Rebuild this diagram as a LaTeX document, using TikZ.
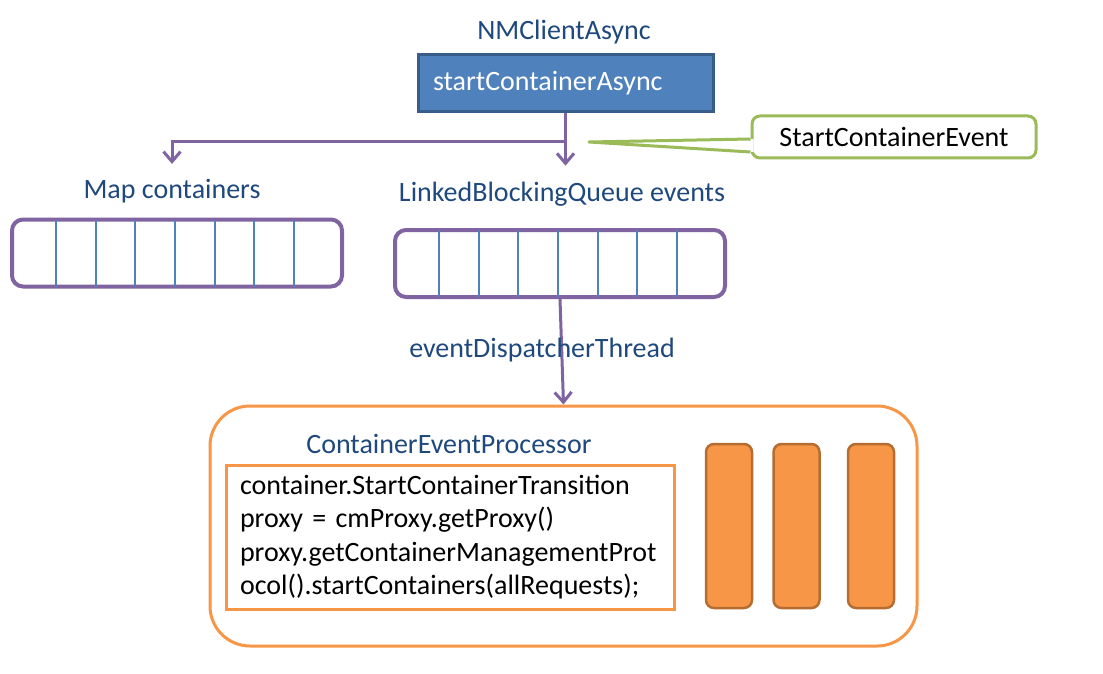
\documentclass[tikz,border=0pt]{standalone}
\usepackage{fontspec}
\setmainfont{Carlito}
\usepackage{xcolor}
\usepackage{tikz}
\usetikzlibrary{arrows.meta,positioning,calc}
\definecolor{NmBlue}{HTML}{4F81BD}
\definecolor{NmBlueDark}{HTML}{385D8A}
\definecolor{NmText}{HTML}{1F497D}
\definecolor{NmPurple}{HTML}{8064A2}
\definecolor{NmGreen}{HTML}{9BBB59}
\definecolor{NmOrange}{HTML}{F79646}
\definecolor{NmOrangeDark}{HTML}{B66D31}
\tikzset{
  toplabel/.style={font=\fontsize{28}{33}\selectfont,text=NmText,inner sep=0pt},
  methodbox/.style={draw=NmBlueDark,line width=3pt,fill=NmBlue,text=white,font=\fontsize{28}{33}\selectfont,minimum width=295pt,minimum height=57pt,text width=265pt,align=left,inner sep=0pt},
  queuebox/.style={draw=NmPurple,line width=4pt,rounded corners=11pt,minimum width=330pt,minimum height=67pt,inner sep=0pt},
  cellline/.style={draw=NmBlue,line width=1.5pt,shorten <=2pt,shorten >=2pt},
  flowarrow/.style={-{Straight Barb[length=10pt,width=17pt,line width=3pt]},line width=3pt,draw=NmPurple},
  eventtag/.style={draw=NmGreen,line width=3pt,rounded corners=8pt,fill=white,minimum width=284pt,minimum height=42pt,font=\fontsize{28}{33}\selectfont,inner sep=0pt},
  tagline/.style={draw=NmGreen,line width=3pt,line join=round},
  procbox/.style={draw=NmOrange,line width=3pt,rounded corners=40pt,minimum width=707pt,minimum height=240pt,inner sep=0pt},
  codebox/.style={draw=NmOrange,line width=3pt,minimum width=448pt,minimum height=144pt,text width=420pt,align=left,inner sep=0pt,font=\fontsize{28}{33.5}\selectfont},
  workerbar/.style={draw=NmOrangeDark,fill=NmOrange,line width=2.5pt,rounded corners=8pt,minimum width=46pt,minimum height=164pt,inner sep=0pt}
}
\begin{document}
\begin{tikzpicture}[x=1pt,y=-1pt]
\useasboundingbox[fill=white] (0,0) rectangle (1103,674);
\node[methodbox] (start) at (565.5,83.5) {startContainerAsync};
\node[toplabel] (client) at (564,32) {NMClientAsync};
\node[queuebox] (mapq) at (177,253) {};
\node[queuebox] (evq) at (560,263.5) {};
\foreach \d in {46,86,125,165,205,244,284}{
  \draw[cellline] ([xshift=\d pt]mapq.south west) -- ([xshift=\d pt]mapq.north west);
  \draw[cellline] ([xshift=\d pt]evq.south west) -- ([xshift=\d pt]evq.north west);
}
\node[toplabel] (maplabel) at (172,191) {Map containers};
\node[toplabel] (evlabel) at (562,194) {LinkedBlockingQueue events};
\coordinate (split) at ($(start.south)+(0,28)$);
\draw[flowarrow] (start.south) -- ($(start.south |- evlabel.north)+(0,-16)$);
\draw[flowarrow] (split) -| ($(maplabel.north)+(0,-15)$);
\node[eventtag] (evtag) at (894,137) {StartContainerEvent};
\coordinate (evtip) at (589,142);
\fill[white] ($(evtag.west)+(3,2)$) -- (evtip) -- ($(evtag.west)+(3,15)$) -- cycle;
\draw[tagline] ($(evtag.west)+(0,2)$) -- (evtip) -- ($(evtag.west)+(0,15)$);
\node[procbox] (proc) at (563.5,526) {};
\draw[flowarrow] (evq.south) -- (proc.north);
\node[toplabel] at (542,350) {eventDispatcherThread};
\node[toplabel] (proclabel) at (449,444) {ContainerEventProcessor};
\node[codebox] (code) at (450,537) {container.StartContainerTransition\\proxy = cmProxy.getProxy()\\proxy.getContainerManagementProt\\ocol().startContainers(allRequests);};
\node[workerbar] (w1) at (729,526) {};
\node[workerbar] (w2) at (796.5,526) {};
\node[workerbar] (w3) at (871,526) {};
\end{tikzpicture}
\end{document}
